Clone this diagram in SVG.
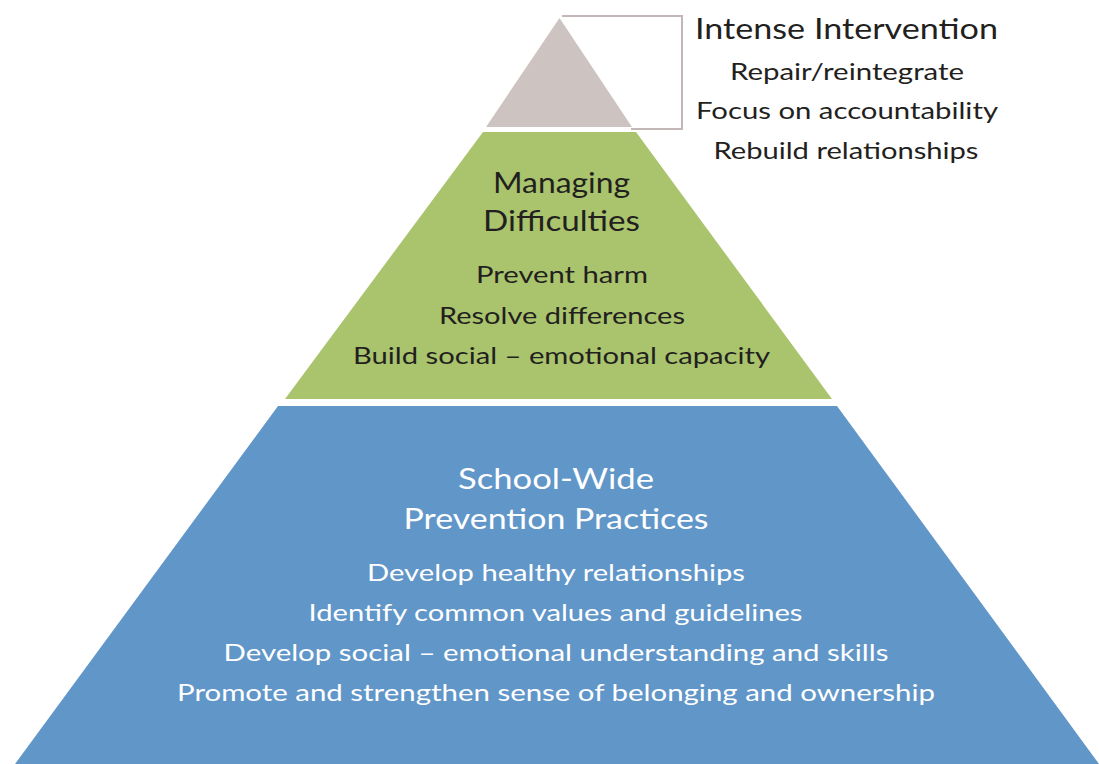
<svg xmlns="http://www.w3.org/2000/svg" width="1099" height="764" viewBox="0 0 1099 764">
<style>
.t{font-family:Lato,"Open Sans","Liberation Sans",sans-serif;text-anchor:middle}
.dk{fill:#231f20}
.wh{fill:#ffffff}
.h{font-size:28.5px}
.b{font-size:24px}
</style>
<rect width="1099" height="764" fill="#ffffff"/>
<g id="connectors">
<polyline points="562,16 682,16 682,129 631,129" fill="none" stroke="#c3b6b6" stroke-width="2"/>
</g>
<g id="tier-top">
<polygon points="559.5,18 486,127 632,127" fill="#cdc3c1"/>
</g>
<g id="tier-top-label">
<text class="t dk h" x="846.5" y="39" textLength="303" lengthAdjust="spacingAndGlyphs">Intense Intervention</text>
<text class="t dk b" x="847" y="80" textLength="234" lengthAdjust="spacingAndGlyphs">Repair/reintegrate</text>
<text class="t dk b" x="847" y="119" textLength="302" lengthAdjust="spacingAndGlyphs">Focus on accountability</text>
<text class="t dk b" x="846" y="159" textLength="265" lengthAdjust="spacingAndGlyphs">Rebuild relationships</text>
</g>
<g id="tier-middle">
<polygon points="483,132 636,132 832,399 285,399" fill="#a9c46c"/>
<text class="t dk h" x="561.5" y="193" textLength="137" lengthAdjust="spacingAndGlyphs">Managing</text>
<text class="t dk h" x="561.5" y="231" textLength="157" lengthAdjust="spacingAndGlyphs">Difficulties</text>
<text class="t dk b" x="562" y="283" textLength="172" lengthAdjust="spacingAndGlyphs">Prevent harm</text>
<text class="t dk b" x="562" y="324" textLength="246" lengthAdjust="spacingAndGlyphs">Resolve differences</text>
<text class="t dk b" x="561.5" y="364" textLength="417" lengthAdjust="spacingAndGlyphs">Build social – emotional capacity</text>
</g>
<g id="tier-bottom">
<polygon points="278,406 837,406 1099,764 15,764" fill="#6196c9"/>
<text class="t wh h" x="556" y="489" textLength="196" lengthAdjust="spacingAndGlyphs">School-Wide</text>
<text class="t wh h" x="556" y="529" textLength="305" lengthAdjust="spacingAndGlyphs">Prevention Practices</text>
<text class="t wh b" x="556" y="581" textLength="378" lengthAdjust="spacingAndGlyphs">Develop healthy relationships</text>
<text class="t wh b" x="555.5" y="621" textLength="494" lengthAdjust="spacingAndGlyphs">Identify common values and guidelines</text>
<text class="t wh b" x="556" y="661" textLength="665" lengthAdjust="spacingAndGlyphs">Develop social – emotional understanding and skills</text>
<text class="t wh b" x="556" y="701" textLength="758" lengthAdjust="spacingAndGlyphs">Promote and strengthen sense of belonging and ownership</text>
</g>
</svg>
